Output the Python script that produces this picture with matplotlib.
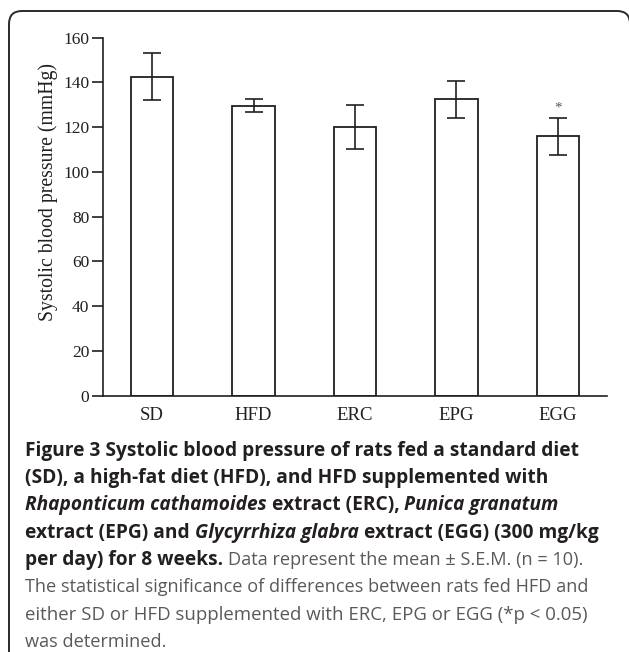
import matplotlib
matplotlib.use("Agg")
import matplotlib.pyplot as plt
from matplotlib.patches import FancyBboxPatch
from matplotlib.transforms import IdentityTransform

# ---------------- Dados ----------------
grupos = ["SD", "HFD", "ERC", "EPG", "EGG"]
pressao = [142.6, 129.5, 120.0, 132.4, 115.9]
erro = [10.5, 2.9, 9.7, 8.4, 8.2]
significativo = [False, False, False, False, True]
ticks_y = [0, 20, 40, 60, 80, 100, 120, 140, 160]

LARG, ALT = 629, 652
COR_LINHA = "#231f20"
COR_TEXTO = "#58595b"

fig = plt.figure(figsize=(LARG / 100, ALT / 100), dpi=100)
fig.patch.set_facecolor("white")

# ---------------- Grafico ----------------
ax = fig.add_axes([103.3 / LARG, 256.3 / ALT, 503.4 / LARG, 358.0 / ALT])
x = list(range(len(grupos)))
ax.bar(x, pressao, width=0.42, color="white", edgecolor=COR_LINHA, linewidth=1.3, zorder=2)
ax.errorbar(x, pressao, yerr=erro, fmt="none", ecolor=COR_LINHA, elinewidth=1.2,
            capsize=6.5, capthick=1.2, zorder=3)
for i in x:
    if significativo[i]:
        ax.text(i, pressao[i] + erro[i] + 4.5, "*", ha="center", va="center",
                family="Liberation Serif", fontsize=11, color=COR_TEXTO)

ax.set_xlim(-0.48, 4.48)
ax.set_ylim(0, 160)
ax.set_yticks(ticks_y)
ax.set_xticks(x)
ax.set_xticklabels(grupos)
for s in ["top", "right"]:
    ax.spines[s].set_visible(False)
for s in ["left", "bottom"]:
    ax.spines[s].set_color(COR_LINHA)
    ax.spines[s].set_linewidth(1.2)
ax.tick_params(axis="y", direction="out", length=8, width=1.2, color=COR_LINHA, pad=2)
ax.tick_params(axis="x", length=0, pad=8)
for lbl in ax.get_yticklabels():
    lbl.set_family("Liberation Serif")
    lbl.set_fontsize(12.5)
    lbl.set_color(COR_LINHA)
for lbl in ax.get_xticklabels():
    lbl.set_family("Liberation Serif")
    lbl.set_fontsize(13.5)
    lbl.set_color(COR_LINHA)

fig.text(48 / LARG, 1 - 192 / ALT, "Systolic blood pressure (mmHg)", rotation=90,
         ha="center", va="center", family="Liberation Serif", fontsize=14.2, color=COR_LINHA)

# ---------------- Moldura ----------------
caixa = FancyBboxPatch((9, -40), 621, 681, boxstyle="round,pad=0,rounding_size=13",
                       transform=IdentityTransform(), fill=False,
                       edgecolor="#2a2a2a", linewidth=1.4, clip_on=False)
fig.patches.append(caixa)

# ---------------- Legenda da figura ----------------
B = dict(weight="bold", style="normal", color=COR_LINHA, fontsize=13.75)
BI = dict(weight="bold", style="italic", color=COR_LINHA, fontsize=13.75)
N = dict(weight="normal", style="normal", color=COR_TEXTO, fontsize=13.05)
N7 = dict(weight="normal", style="normal", color=COR_TEXTO, fontsize=13.4)

linhas = [
    [("Figure 3 Systolic blood pressure of rats fed a standard diet", B)],
    [("(SD), a high-fat diet (HFD), and HFD supplemented with", B)],
    [("Rhaponticum cathamoides", BI), ("extract (ERC),", B), ("Punica granatum", BI)],
    [("extract (EPG) and", B), ("Glycyrrhiza glabra", BI), ("extract (EGG) (300 mg/kg", B)],
    [("per day) for 8 weeks.", B), ("Data represent the mean \u00b1 S.E.M. (n = 10).", N)],
    [("The statistical significance of differences between rats fed HFD and", N)],
    [("either SD or HFD supplemented with ERC, EPG or EGG (*p < 0.05)", N7)],
    [("was determined.", N)],
]
FONTE = "Open Sans"
y0, passo = 455.7, 27.3

fig.canvas.draw()
rend = fig.canvas.get_renderer()


def largura(t):
    return t.get_window_extent(rend).width


for k, runs in enumerate(linhas):
    yb = 1 - (y0 + k * passo) / ALT
    xp = 25
    for j, (txt, est) in enumerate(runs):
        if j > 0:
            a = fig.text(0, 0, "x x", family=FONTE, **est)
            b = fig.text(0, 0, "xx", family=FONTE, **est)
            xp += largura(a) - largura(b)
            a.remove()
            b.remove()
        t = fig.text(xp / LARG, yb, txt, family=FONTE, va="baseline", **est)
        xp += largura(t)

fig.savefig("out.png", dpi=100)
